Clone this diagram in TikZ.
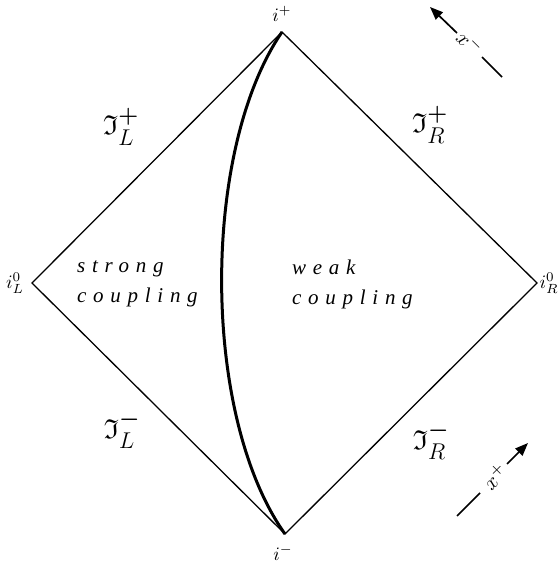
\RequirePackage{fix-cm}
\documentclass[tikz,border=0pt]{standalone}
\usepackage{amsmath}
\usepackage{amssymb}
\usepackage{graphicx}
\usepackage{fontspec}
\newfontfamily\txtfont[LetterSpace=32]{Liberation Serif}
\usetikzlibrary{arrows.meta}
\tikzset{
  edge/.style={line width=1.3pt, black},
  world/.style={line width=3pt, black},
  scri/.style={inner sep=0pt, font=\fontsize{24.88}{28}\selectfont},
  vtx/.style={inner sep=0pt},
  region/.style={inner sep=0pt, align=left, anchor=west, font=\txtfont\itshape\fontsize{21}{30}\selectfont},
  coordarrow/.style={line width=1.7pt, -{Triangle[length=13pt,width=10pt]}},
  coordline/.style={line width=1.7pt},
  coordlab/.style={inner sep=0pt}
}
\newcommand{\frakI}[2]{\scalebox{1.1}{$\mathfrak{I}^{\boldsymbol{#1}}_{#2}$}}
\newcommand{\vlab}[1]{\scalebox{1.9}{$#1$}}
\newcommand{\xlab}[1]{\scalebox{2.1}{$#1$}}
\begin{document}
\begin{tikzpicture}[x=1pt,y=-1pt]
\useasboundingbox (0,0) rectangle (558,564);
\coordinate (T) at (282,32);
\coordinate (L) at (32,283);
\coordinate (R) at (537,283);
\coordinate (B) at (285,534);
\draw[edge, line join=miter] (T) -- (R) -- (B) -- (L) -- cycle;
\draw[world] (T) .. controls (201,150) and (201,416) .. (B);
\node[vtx] (ip) at (282,14) {\vlab{i^+}};
\node[vtx] (im) at (283,553) {\vlab{i^-}};
\node[vtx] (il) at (15,283) {\vlab{i^0_L}};
\node[vtx] (ir) at (549,283) {\vlab{i^0_R}};
\node[scri] (sLp) at (121,127) {\frakI{+}{L}};
\node[scri] (sRp) at (430,125) {\frakI{+}{R}};
\node[scri] (sLm) at (122,430) {\frakI{-}{L}};
\node[scri] (sRm) at (431,441) {\frakI{-}{R}};
\node[region] (strong) at (77,284) {strong\\coupling};
\node[region] (weak) at (292,284) {weak\\coupling};
% coordinate arrows
\coordinate (a1) at (457,33);
\coordinate (a1t) at (430,7);
\coordinate (a2) at (482,57);
\coordinate (a2e) at (502,77);
\draw[coordarrow] (a1) -- (a1t);
\draw[coordline] (a2) -- (a2e);
\node[coordlab, rotate=-45] (xm) at (470,43) {\xlab{x^-}};
\coordinate (b1) at (457,516);
\coordinate (b1e) at (480,493);
\coordinate (b2) at (507,464);
\coordinate (b2t) at (528,443);
\draw[coordline] (b1) -- (b1e);
\draw[coordarrow] (b2) -- (b2t);
\node[coordlab, rotate=45] (xp) at (495,476) {\xlab{x^+}};
\end{tikzpicture}
\end{document}
